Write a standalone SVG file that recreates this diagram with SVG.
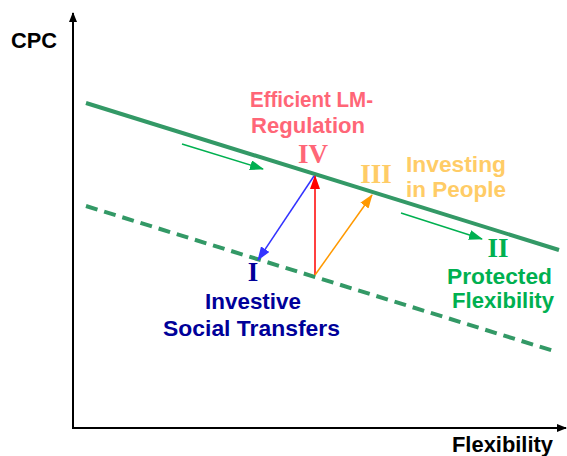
<svg xmlns="http://www.w3.org/2000/svg" width="567" height="456" viewBox="0 0 567 456">
<style>
.t{font-family:"Liberation Sans",Arial,sans-serif;font-weight:bold;font-size:22px}
.r{font-family:"Liberation Serif","Times New Roman",serif;font-weight:bold;font-size:27px}
.ax{stroke:#000;stroke-width:2;fill:none}
.curve{stroke:#339966;stroke-width:4;fill:none}
</style>
<defs>
<marker id="mk" markerWidth="10" markerHeight="10" refX="9" refY="5" orient="auto" markerUnits="userSpaceOnUse"><path d="M0,1 L10,5 L0,9 Z" fill="#000"/></marker>
<marker id="mg" markerWidth="14" markerHeight="10" refX="13" refY="5" orient="auto" markerUnits="userSpaceOnUse"><path d="M0,0 L14,5 L0,10 Z" fill="#00b050"/></marker>
<marker id="mr" markerWidth="14" markerHeight="10" refX="13" refY="5" orient="auto" markerUnits="userSpaceOnUse"><path d="M0,0 L14,5 L0,10 Z" fill="#ff0000"/></marker>
<marker id="mb" markerWidth="14" markerHeight="10" refX="13" refY="5" orient="auto" markerUnits="userSpaceOnUse"><path d="M0,0 L14,5 L0,10 Z" fill="#3333ff"/></marker>
<marker id="mo" markerWidth="14" markerHeight="10" refX="13" refY="5" orient="auto" markerUnits="userSpaceOnUse"><path d="M0,0 L14,5 L0,10 Z" fill="#ff9900"/></marker>
</defs>
<g id="axes">
<line class="ax" x1="73" y1="429" x2="73" y2="13" marker-end="url(#mk)"/>
<line class="ax" x1="72" y1="428" x2="566" y2="428" marker-end="url(#mk)"/>
<text class="t" x="11" y="48" textLength="46" lengthAdjust="spacingAndGlyphs">CPC</text>
<text class="t" x="452" y="452" textLength="101" lengthAdjust="spacingAndGlyphs">Flexibility</text>
</g>
<g id="curves">
<line class="curve" x1="86" y1="103" x2="559" y2="250"/>
<line class="curve" x1="86" y1="206" x2="557" y2="352" stroke-dasharray="12 7"/>
</g>
<g id="connectors">
<line x1="182" y1="144" x2="263" y2="169" stroke="#00b050" stroke-width="1.5" marker-end="url(#mg)"/>
<line x1="401" y1="213" x2="482" y2="239" stroke="#00b050" stroke-width="1.5" marker-end="url(#mg)"/>
<line x1="315" y1="275" x2="315" y2="176" stroke="#ff0000" stroke-width="1.5" marker-end="url(#mr)"/>
<line x1="314" y1="176" x2="258" y2="260" stroke="#3333ff" stroke-width="1.5" marker-end="url(#mb)"/>
<line x1="315" y1="275" x2="372" y2="195" stroke="#ff9900" stroke-width="1.5" marker-end="url(#mo)"/>
</g>
<g id="node-IV">
<text class="r" x="313" y="163" text-anchor="middle" fill="#ff6677">IV</text>
<text class="t" x="250" y="107" textLength="123" lengthAdjust="spacingAndGlyphs" fill="#ff6677">Efficient LM-</text>
<text class="t" x="251" y="133" textLength="114" lengthAdjust="spacingAndGlyphs" fill="#ff6677">Regulation</text>
</g>
<g id="node-III">
<text class="r" x="376" y="183" text-anchor="middle" fill="#ffcc66">III</text>
<text class="t" x="406" y="172" textLength="100" lengthAdjust="spacingAndGlyphs" fill="#ffcc66">Investing</text>
<text class="t" x="406" y="197" textLength="100" lengthAdjust="spacingAndGlyphs" fill="#ffcc66">in People</text>
</g>
<g id="node-II">
<text class="r" x="498" y="257" text-anchor="middle" fill="#00b050">II</text>
<text class="t" x="447" y="284" textLength="105" lengthAdjust="spacingAndGlyphs" fill="#00b050">Protected</text>
<text class="t" x="452" y="308" textLength="102" lengthAdjust="spacingAndGlyphs" fill="#00b050">Flexibility</text>
</g>
<g id="node-I">
<text class="r" x="253" y="281" text-anchor="middle" fill="#000099">I</text>
<text class="t" x="205" y="309" textLength="96" lengthAdjust="spacingAndGlyphs" fill="#000099">Investive</text>
<text class="t" x="163" y="336" textLength="177" lengthAdjust="spacingAndGlyphs" fill="#000099">Social Transfers</text>
</g>
</svg>
